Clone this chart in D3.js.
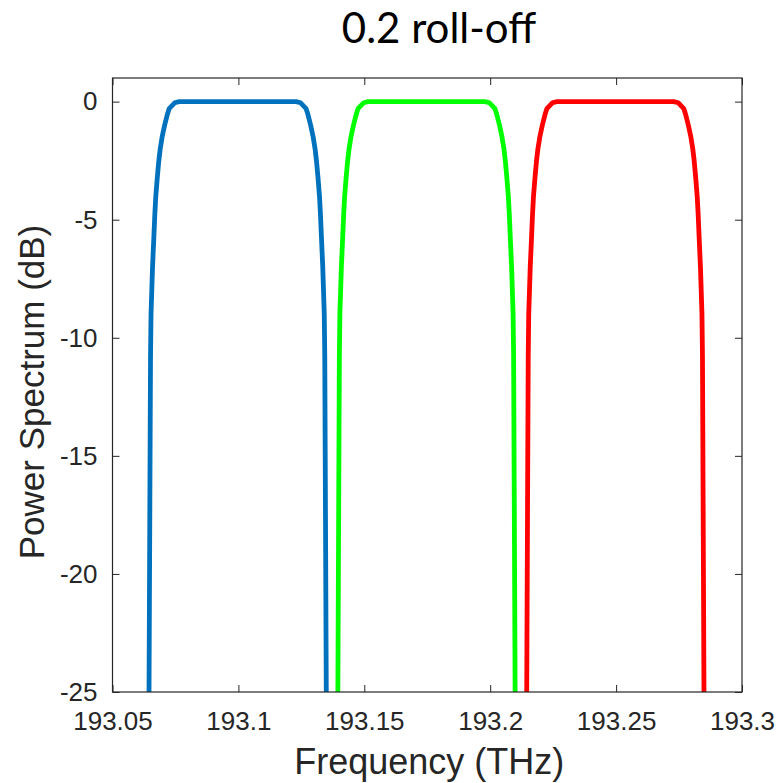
<!DOCTYPE html>
<html>
<head>
<meta charset="utf-8">
<script src="https://cdn.jsdelivr.net/npm/d3@7"></script>
<style>
  html, body { margin: 0; padding: 0; background: #fff; }
  svg { display: block; }
</style>
</head>
<body>
<svg id="chart" width="778" height="783"></svg>
<script>
// ---- data ----
const titleText = "0.2 roll-off";
const xLabel = "Frequency (THz)";
const yLabel = "Power Spectrum (dB)";
const xTicks = [193.05, 193.1, 193.15, 193.2, 193.25, 193.3];
const xTickLabels = ["193.05", "193.1", "193.15", "193.2", "193.25", "193.3"];
const yTicks = [0, -5, -10, -15, -20, -25];
const yTickLabels = ["0", "-5", "-10", "-15", "-20", "-25"];

// power levels (dB) of each sampled point, shared by all three channels
const levelsDb = [-25, -10.8, -9, -8, -7, -5.8, -4.8, -4, -3.2, -2.5, -2, -1.5, -1, -0.5, -0.3, -0.05, 0,
                  0, -0.05, -0.3, -0.5, -1, -1.5, -2, -2.5, -3.2, -4, -4.8, -5.8, -7, -8, -9, -10.8, -25];

const blueFreq = [193.0645, 193.0651, 193.0653, 193.0656, 193.0659, 193.0664, 193.0668, 193.0672, 193.0678,
                  193.0684, 193.06895, 193.0697, 193.0707, 193.0719, 193.0725, 193.0747, 193.0765,
                  193.1229, 193.1247, 193.1269, 193.1275, 193.1287, 193.1297, 193.13045, 193.131, 193.1316,
                  193.1322, 193.1326, 193.133, 193.1335, 193.1338, 193.1341, 193.1343, 193.1349];
const greenFreq = [193.1395, 193.1401, 193.1403, 193.1406, 193.1409, 193.1414, 193.1418, 193.1422, 193.1428,
                   193.1434, 193.14395, 193.1447, 193.1457, 193.1469, 193.1475, 193.1497, 193.1515,
                   193.1979, 193.1997, 193.2019, 193.2025, 193.2037, 193.2047, 193.20545, 193.206, 193.2066,
                   193.2072, 193.2076, 193.208, 193.2085, 193.2088, 193.2091, 193.2093, 193.2099];
const redFreq = [193.2145, 193.2151, 193.2153, 193.2156, 193.2159, 193.2164, 193.2168, 193.2172, 193.2178,
                 193.2184, 193.21895, 193.2197, 193.2207, 193.2219, 193.2225, 193.2247, 193.2265,
                 193.2729, 193.2747, 193.2769, 193.2775, 193.2787, 193.2797, 193.28045, 193.281, 193.2816,
                 193.2822, 193.2826, 193.283, 193.2835, 193.2838, 193.2841, 193.2843, 193.2849];

const seriesNames = ["ch1", "ch2", "ch3"];
const seriesFreqs = [blueFreq, greenFreq, redFreq];
const seriesColors = ["#0072BD", "#00FF00", "#FF0000"];

// ---- layout ----
const plot = { left: 112.5, right: 742, top: 78, bottom: 692 };
const axisColor = "#262626";
const tickFont = "'Liberation Sans', Arial, Helvetica, sans-serif";

const svg = d3.select("#chart");

const x = d3.scaleLinear().domain([193.05, 193.3]).range([plot.left, plot.right]);
const y = d3.scaleLinear().domain([-25, 1]).range([plot.bottom, plot.top]);

svg.append("defs").append("clipPath").attr("id", "clip")
  .append("rect")
  .attr("x", plot.left).attr("y", plot.top)
  .attr("width", plot.right - plot.left).attr("height", plot.bottom - plot.top);

// lines
const line = d3.line().x(d => x(d.f)).y(d => y(d.db)).curve(d3.curveLinear);
const g = svg.append("g").attr("clip-path", "url(#clip)");
seriesFreqs.forEach((freqs, i) => {
  const pts = freqs.map((f, k) => ({ f: f, db: levelsDb[k] }));
  g.append("path")
    .datum(pts)
    .attr("class", seriesNames[i])
    .attr("fill", "none")
    .attr("stroke", seriesColors[i])
    .attr("stroke-width", 4.8)
    .attr("stroke-linejoin", "round")
    .attr("stroke-linecap", "butt")
    .attr("d", line);
});

// axes (box with inward ticks)
const tickLen = 7;
const fmtX = (d, i) => xTickLabels[i];
const fmtY = (d, i) => yTickLabels[i];

const xBottom = d3.axisBottom(x).tickValues(xTicks).tickFormat(fmtX).tickSizeInner(-tickLen).tickSizeOuter(0).tickPadding(20);
const xTop = d3.axisTop(x).tickValues(xTicks).tickFormat("").tickSizeInner(-tickLen).tickSizeOuter(0);
const yLeft = d3.axisLeft(y).tickValues(yTicks).tickFormat(fmtY).tickSizeInner(-tickLen).tickSizeOuter(0).tickPadding(15);
const yRight = d3.axisRight(y).tickValues(yTicks).tickFormat("").tickSizeInner(-tickLen).tickSizeOuter(0);

function styleAxis(sel) {
  sel.select(".domain").remove();
  sel.selectAll(".tick line").attr("stroke", axisColor).attr("stroke-width", 1);
  sel.selectAll(".tick text").attr("fill", axisColor).attr("font-family", tickFont).attr("font-size", 26);
}

svg.append("g").attr("transform", `translate(0,${plot.bottom})`).call(xBottom).call(styleAxis);
svg.append("g").attr("transform", `translate(0,${plot.top})`).call(xTop).call(styleAxis);
svg.append("g").attr("transform", `translate(${plot.left},0)`).call(yLeft).call(styleAxis);
svg.append("g").attr("transform", `translate(${plot.right},0)`).call(yRight).call(styleAxis);

// box
svg.append("rect")
  .attr("x", plot.left).attr("y", plot.top)
  .attr("width", plot.right - plot.left).attr("height", plot.bottom - plot.top)
  .attr("fill", "none").attr("stroke", axisColor).attr("stroke-width", 1.2);

// axis labels
svg.append("text")
  .attr("x", (plot.left + plot.right) / 2 + 2).attr("y", 774)
  .attr("text-anchor", "middle")
  .attr("font-family", tickFont).attr("font-size", 36).attr("fill", axisColor)
  .text(xLabel);

svg.append("text")
  .attr("transform", `translate(44,${(plot.top + plot.bottom) / 2 + 7}) rotate(-90)`)
  .attr("text-anchor", "middle")
  .attr("font-family", tickFont).attr("font-size", 35).attr("fill", axisColor)
  .text(yLabel);

// title
svg.append("text")
  .attr("x", 439).attr("y", 43)
  .attr("text-anchor", "middle")
  .attr("font-family", "Lato, 'Open Sans', sans-serif").attr("font-size", 42).attr("fill", "#000")
  .text(titleText);
</script>
</body>
</html>
